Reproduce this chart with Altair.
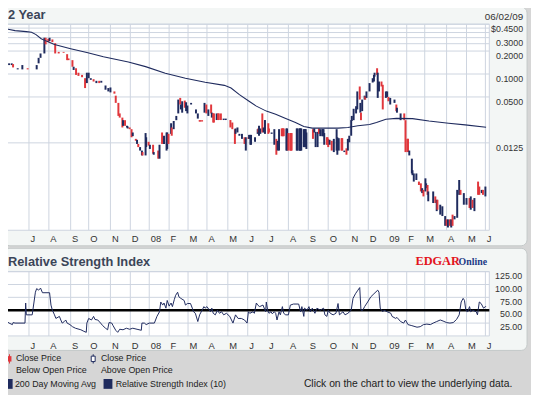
import altair as alt
import pandas as pd

# ------------------------------------------------------------------ data
candle_date = [
    "2007-06-01", "2007-06-05", "2007-06-07", "2007-06-14", "2007-06-21", "2007-06-29",
    "2007-07-13", "2007-07-16", "2007-07-19", "2007-07-25", "2007-07-27", "2007-07-31",
    "2007-08-02", "2007-08-06", "2007-08-10", "2007-08-15", "2007-08-22", "2007-08-27", "2007-08-29",
    "2007-09-04", "2007-09-06", "2007-09-10", "2007-09-14", "2007-09-20", "2007-09-25", "2007-09-28",
    "2007-10-01", "2007-10-04", "2007-10-08", "2007-10-12", "2007-10-16", "2007-10-19", "2007-10-25", "2007-10-29",
    "2007-11-01", "2007-11-07", "2007-11-09", "2007-11-13", "2007-11-15", "2007-11-19", "2007-11-20", "2007-11-23", "2007-11-26", "2007-11-27", "2007-11-30",
    "2007-12-03", "2007-12-05", "2007-12-10", "2007-12-12", "2007-12-14", "2007-12-17", "2007-12-20", "2007-12-21", "2007-12-26", "2007-12-27", "2007-12-31",
    "2008-01-02", "2008-01-07", "2008-01-08", "2008-01-15", "2008-01-17", "2008-01-21", "2008-01-24", "2008-01-28", "2008-01-29", "2008-01-31",
    "2008-02-04", "2008-02-05", "2008-02-08", "2008-02-12", "2008-02-15", "2008-02-18", "2008-02-19", "2008-02-21", "2008-02-25", "2008-02-27", "2008-02-29",
    "2008-03-06", "2008-03-14", "2008-03-17", "2008-03-20", "2008-03-21", "2008-03-24", "2008-03-28", "2008-03-31",
    "2008-04-03", "2008-04-07", "2008-04-08", "2008-04-10", "2008-04-11", "2008-04-15", "2008-04-17", "2008-04-18", "2008-04-21", "2008-04-25", "2008-04-28",
    "2008-05-05", "2008-05-08", "2008-05-12", "2008-05-13", "2008-05-16", "2008-05-19", "2008-05-23", "2008-05-27", "2008-05-29",
    "2008-06-02", "2008-06-03", "2008-06-05", "2008-06-06", "2008-06-12", "2008-06-16", "2008-06-17", "2008-06-18", "2008-06-20", "2008-06-23", "2008-06-25", "2008-06-27",
    "2008-07-02", "2008-07-03", "2008-07-07", "2008-07-11", "2008-07-14", "2008-07-16", "2008-07-18", "2008-07-22", "2008-07-23", "2008-07-24", "2008-07-25", "2008-07-29", "2008-07-30",
    "2008-08-01", "2008-08-04", "2008-08-05", "2008-08-06", "2008-08-14", "2008-08-15", "2008-08-18", "2008-08-19", "2008-08-20", "2008-08-21", "2008-08-25", "2008-08-26", "2008-08-27", "2008-08-28", "2008-08-29",
    "2008-09-08", "2008-09-10", "2008-09-12", "2008-09-15", "2008-09-17", "2008-09-19", "2008-09-22", "2008-09-23", "2008-09-24", "2008-09-25", "2008-09-29", "2008-09-30",
    "2008-10-01", "2008-10-03", "2008-10-06", "2008-10-09", "2008-10-13", "2008-10-14", "2008-10-16", "2008-10-20", "2008-10-21", "2008-10-24", "2008-10-27", "2008-10-29", "2008-10-31",
    "2008-11-03", "2008-11-04", "2008-11-07", "2008-11-11", "2008-11-13", "2008-11-17", "2008-11-18", "2008-11-19", "2008-11-21", "2008-11-25", "2008-11-26", "2008-11-28",
    "2008-12-03", "2008-12-08", "2008-12-10", "2008-12-11", "2008-12-15", "2008-12-16", "2008-12-18", "2008-12-22", "2008-12-24", "2008-12-29", "2008-12-31",
    "2009-01-02", "2009-01-05", "2009-01-12", "2009-01-15", "2009-01-16", "2009-01-22", "2009-01-28", "2009-01-30",
    "2009-02-02", "2009-02-03", "2009-02-05", "2009-02-09", "2009-02-10", "2009-02-12", "2009-02-16", "2009-02-20", "2009-02-23", "2009-02-25", "2009-02-27",
    "2009-03-02", "2009-03-03", "2009-03-05", "2009-03-06", "2009-03-13", "2009-03-16", "2009-03-18", "2009-03-19", "2009-03-23", "2009-03-26", "2009-03-30",
    "2009-04-01", "2009-04-03", "2009-04-06", "2009-04-08", "2009-04-10", "2009-04-13", "2009-04-17", "2009-04-20", "2009-04-22", "2009-04-27",
    "2009-05-01", "2009-05-06", "2009-05-08", "2009-05-11", "2009-05-14", "2009-05-20", "2009-05-22", "2009-05-26", "2009-05-28",
    "2009-06-01",
]
candle_high = [
    .138, .138, .135, .119, .131, .119,
    .131, .163, .186, .299, .299, .290,
    .299, .284, .254, .195, .195, .182, .160,
    .152, .1245, .119, .104, .0973, .0881, .104,
    .104, .0881, .0855, .0814, .0814, .0814, .0707, .0654,
    .0666, .0591, .0520, .0418, .0304, .0268, .0248, .0248, .0209, .0205, .0199,
    .0189, .0171, .0141, .0137, .0121, .0110, .0099, .00946, .0168, .0148, .0129,
    .0118, .0118, .00946, .0099, .0118, .0171, .0155, .0171, .0171, .0164,
    .0226, .0199, .0242, .0282, .0462, .0486, .0398, .0439, .0448, .0426, .0386,
    .0418, .0343, .0304, .0248, .0248, .0248, .0418, .0398,
    .0343, .0398, .0311, .0304, .0304, .0304, .0304, .0304, .0304, .0260, .0260,
    .0249, .0231, .0189, .0193, .0199, .0164, .0164, .0148, .0148,
    .0148, .0159, .0159, .0159, .0148, .0189, .0193, .0209, .0193, .0304, .0199, .0249,
    .0226, .0193, .0171, .0189, .0141, .0133, .0189, .0193, .0193, .0193, .0193, .0193, .0193,
    .0168, .0168, .0168, .0168, .0193, .0193, .0193, .0193, .0193, .0193, .0189, .0189, .0189, .0189, .0171,
    .0189, .0193, .0174, .0174, .0193, .0189, .0189, .0189, .0189, .0168, .0148, .0148,
    .0141, .0137, .0133, .0141, .0189, .0148, .0144, .0144, .0144, .0099, .0106, .0141, .0155,
    .0248, .0282, .0350, .0378, .0591, .0686, .0418, .0311, .0462, .0520, .0510, .0591,
    .076, .0881, .0973, .104, .119, .104, .0797, .0797, .0722, .0591, .0591,
    .0500, .0486, .0462, .0398, .0361, .0304, .0304, .0248,
    .0141, .0141, .0099, .00775, .00547, .00496, .00496, .00388, .00368, .00318, .00302,
    .00428, .00368, .00350, .00288, .00288, .00248, .00224, .00224, .00193, .00184, .00137,
    .00124, .00124, .00124, .00124, .00143, .00137, .00302, .00407, .00302, .00274,
    .00236, .00236, .00248, .00224, .00236, .00388, .00334, .00302, .00302,
    .00334,
]
candle_low = [
    .131, .131, .122, .115, .115, .115,
    .115, .138, .163, .186, .245, .262,
    .270, .262, .186, .186, .190, .152, .152,
    .1245, .113, .0973, .0944, .0908, .0654, .076,
    .0881, .0838, .0797, .076, .076, .077, .0622, .0591,
    .0574, .0552, .0418, .0282, .0268, .0199, .0209, .0209, .0199, .0193, .0189,
    .0148, .0153, .0133, .0121, .0110, .0099, .00855, .00855, .00855, .0110, .0115,
    .0104, .0090, .00873, .00775, .00775, .0121, .0121, .0099, .0104, .0121,
    .0164, .0155, .0189, .0248, .0304, .0398, .0343, .0311, .0361, .0326, .0304,
    .0398, .0304, .0260, .0238, .0238, .0238, .0311, .0304,
    .0282, .0304, .0268, .0231, .0231, .0249, .0249, .0249, .0249, .0249, .0249,
    .0199, .0189, .0121, .0164, .0171, .0155, .0141, .0121, .0099,
    .0141, .0141, .0118, .0118, .0129, .0164, .0171, .0155, .0164, .0171, .0171, .0164,
    .0164, .0171, .0164, .0118, .00873, .0099, .0099, .0153, .0153, .0153, .0153, .0099, .0099,
    .0099, .0099, .0099, .0099, .0099, .0099, .0099, .0099, .0099, .0099, .0110, .0110, .0110, .0148, .0104,
    .0141, .0171, .0110, .0110, .0164, .0153, .0153, .0153, .0153, .0118, .0118, .0118,
    .0110, .0118, .0099, .00946, .0099, .00873, .0099, .0099, .0099, .00946, .00873, .0099, .0127,
    .0155, .0242, .0248, .0304, .0343, .0462, .0311, .0248, .0326, .0462, .0462, .0486,
    .0591, .0773, .0797, .0924, .0973, .0486, .0591, .0686, .0343, .0486, .0500,
    .0439, .0398, .0418, .0326, .0311, .0248, .0248, .00946,
    .00946, .00946, .00855, .00496, .00471, .00388, .00407, .00350, .00288, .00274, .00248,
    .00288, .00318, .00260, .00214, .00203, .00203, .00159, .00166, .00143, .00137, .00102,
    .00102, .00097, .00102, .00097, .00102, .00124, .00130, .00260, .00260, .00193,
    .00193, .00175, .00166, .00175, .00159, .00260, .00260, .00274, .00260,
    .00248,
]
candle_dir = [
    "u", "u", "d", "u", "u", "d",
    "u", "u", "u", "u", "d", "d",
    "u", "d", "d", "d", "d", "d", "d",
    "d", "u", "d", "d", "d", "d", "u",
    "u", "u", "d", "u", "d", "u", "u", "u",
    "u", "d", "d", "d", "d", "d", "u", "d", "u", "u", "d",
    "d", "u", "d", "u", "d", "u", "u", "d", "u", "u", "d",
    "u", "d", "u", "d", "u", "d", "u", "u", "u", "d",
    "u", "d", "u", "u", "u", "d", "u", "u", "d", "u", "u",
    "u", "u", "u", "d", "d", "d", "u", "d",
    "u", "d", "u", "d", "d", "u", "d", "d", "d", "u", "u",
    "d", "d", "d", "u", "u", "u", "u", "d", "u",
    "d", "u", "u", "u", "u", "u", "d", "u", "u", "d", "u", "u",
    "d", "d", "u", "u", "d", "u", "u", "d", "d", "d", "d", "u", "u",
    "d", "d", "d", "d", "u", "u", "u", "u", "u", "u", "u", "u", "u", "u", "u",
    "d", "u", "u", "u", "d", "u", "u", "u", "u", "u", "d", "d",
    "d", "u", "d", "u", "u", "u", "u", "d", "d", "u", "d", "u", "u",
    "u", "u", "u", "u", "u", "d", "u", "d", "u", "u", "d", "u",
    "u", "u", "u", "u", "d", "u", "u", "d", "d", "u", "u",
    "d", "u", "u", "d", "u", "u", "d", "d",
    "d", "d", "u", "u", "u", "u", "u", "d", "d", "u", "d",
    "u", "u", "d", "u", "u", "d", "u", "d", "u", "u", "u",
    "d", "u", "d", "u", "d", "u", "u", "u", "d", "u",
    "u", "d", "u", "d", "u", "d", "d", "u", "d",
    "u",
]

ma_date = [
    "2007-05-28", "2007-06-10", "2007-06-27", "2007-07-05", "2007-07-12", "2007-07-20", "2007-07-28",
    "2007-08-09", "2007-09-01", "2007-09-28", "2007-10-22", "2007-11-28", "2007-12-26", "2008-01-26",
    "2008-02-26", "2008-03-29", "2008-04-26", "2008-05-06", "2008-05-19", "2008-06-03", "2008-06-14",
    "2008-06-29", "2008-07-13", "2008-07-28", "2008-08-12", "2008-08-25", "2008-09-07", "2008-10-15",
    "2008-10-29", "2008-11-14", "2008-12-03", "2008-12-14", "2008-12-29", "2009-01-15", "2009-02-10",
    "2009-03-07", "2009-04-04", "2009-04-29", "2009-06-02",
]
ma_value = [
    0.390, 0.371, 0.360, 0.353, 0.329, 0.290, 0.270,
    0.244, 0.215, 0.191, 0.168, 0.144, 0.125, 0.102,
    0.088, 0.078, 0.071, 0.0655, 0.0536, 0.0440, 0.0379,
    0.0326, 0.0296, 0.0260, 0.0231, 0.0205, 0.0195, 0.0195,
    0.0199, 0.0209, 0.0218, 0.0231, 0.0255, 0.0262, 0.0260,
    0.0242, 0.0226, 0.0215, 0.0200,
]

rsi_date = [
    "2007-05-29",
    "2007-06-01", "2007-06-06", "2007-06-07", "2007-06-10", "2007-06-25", "2007-06-26", "2007-06-27",
    "2007-07-06", "2007-07-11", "2007-07-13", "2007-07-16", "2007-07-19", "2007-07-22",
    "2007-08-02", "2007-08-04", "2007-08-06", "2007-08-09", "2007-08-11", "2007-08-16", "2007-08-18", "2007-08-20", "2007-08-23", "2007-08-25", "2007-08-27", "2007-08-31",
    "2007-09-04", "2007-09-09", "2007-09-18", "2007-09-23", "2007-09-27", "2007-09-28",
    "2007-10-01", "2007-10-05", "2007-10-08", "2007-10-10", "2007-10-14", "2007-10-18", "2007-10-21", "2007-10-25", "2007-10-28", "2007-10-30",
    "2007-11-03", "2007-11-05", "2007-11-09", "2007-11-12", "2007-11-15", "2007-11-20", "2007-11-25", "2007-11-30",
    "2007-12-05", "2007-12-12", "2007-12-19", "2007-12-20", "2007-12-24", "2007-12-27",
    "2008-01-01", "2008-01-09", "2008-01-13", "2008-01-17", "2008-01-19", "2008-01-22", "2008-01-24", "2008-01-27", "2008-01-29",
    "2008-02-01", "2008-02-04", "2008-02-06", "2008-02-09", "2008-02-11", "2008-02-14", "2008-02-16", "2008-02-19", "2008-02-24", "2008-02-26", "2008-02-29",
    "2008-03-05", "2008-03-08", "2008-03-10", "2008-03-13", "2008-03-17", "2008-03-20", "2008-03-24", "2008-03-27", "2008-03-29",
    "2008-04-01", "2008-04-06", "2008-04-08", "2008-04-10", "2008-04-13", "2008-04-16", "2008-04-19", "2008-04-22", "2008-04-25", "2008-04-29",
    "2008-05-04", "2008-05-09", "2008-05-13", "2008-05-17", "2008-05-22", "2008-05-27", "2008-05-31",
    "2008-06-02", "2008-06-04", "2008-06-09", "2008-06-11", "2008-06-14", "2008-06-16", "2008-06-19", "2008-06-24", "2008-06-28", "2008-06-29",
    "2008-07-01", "2008-07-03", "2008-07-06", "2008-07-08", "2008-07-11", "2008-07-13", "2008-07-15", "2008-07-18", "2008-07-20", "2008-07-23", "2008-07-25", "2008-07-28",
    "2008-08-01", "2008-08-04", "2008-08-09", "2008-08-17", "2008-08-20", "2008-08-22", "2008-08-25", "2008-08-26", "2008-08-30",
    "2008-09-02", "2008-09-04", "2008-09-07", "2008-09-11", "2008-09-14", "2008-09-19", "2008-09-24", "2008-09-26", "2008-09-29",
    "2008-10-01", "2008-10-04", "2008-10-08", "2008-10-12", "2008-10-15", "2008-10-17", "2008-10-22", "2008-10-25", "2008-10-29",
    "2008-11-03", "2008-11-06", "2008-11-10", "2008-11-14", "2008-11-17", "2008-11-19", "2008-11-22", "2008-11-25", "2008-11-30",
    "2008-12-05", "2008-12-10", "2008-12-16", "2008-12-18", "2008-12-20", "2008-12-24", "2008-12-26", "2008-12-31",
    "2009-01-06", "2009-01-08", "2009-01-14", "2009-01-16", "2009-01-22", "2009-01-27", "2009-01-30",
    "2009-02-03", "2009-02-09", "2009-02-17", "2009-02-22", "2009-02-27",
    "2009-03-04", "2009-03-09", "2009-03-13", "2009-03-18", "2009-03-23", "2009-03-27",
    "2009-04-01", "2009-04-06", "2009-04-11", "2009-04-16", "2009-04-20", "2009-04-23", "2009-04-26", "2009-04-28", "2009-04-30",
    "2009-05-03", "2009-05-06", "2009-05-08", "2009-05-11", "2009-05-17", "2009-05-19", "2009-05-22", "2009-05-25", "2009-05-29",
    "2009-06-01", "2009-06-02",
]
rsi_value = [
    28,
    25, 22, 26, 25, 25, 64, 41,
    41, 85, 92, 89, 93, 84,
    84, 60, 50, 41, 34, 38, 31, 25, 28, 31, 25, 22,
    18, 15, 12, 9, 7, 25,
    34, 31, 38, 32, 31, 25, 20, 15, 12, 26,
    25, 20, 11, 7, 13, 12, 15, 13,
    15, 13, 11, 25, 25, 22,
    25, 25, 38, 47, 66, 60, 64, 54, 69,
    58, 64, 57, 71, 79, 85, 76, 73, 69, 60, 63,
    63, 54, 47, 44, 28, 41, 50, 57, 54,
    57, 47, 54, 44, 41, 50, 44, 47, 41, 44,
    38, 25, 41, 34, 34, 31, 25,
    47, 44, 47, 44, 64, 60, 57, 60, 47, 66,
    50, 44, 47, 43, 47, 44, 31, 47, 41, 57, 44, 41,
    41, 60, 62, 62, 47, 57, 38, 54, 50,
    57, 47, 54, 44, 54, 50, 54, 41, 38,
    50, 44, 41, 44, 63, 41, 47, 41, 44,
    50, 73, 82, 89, 94, 50, 50, 57, 66,
    76, 82, 89, 85, 54, 47, 50, 47,
    44, 38, 34, 36, 28, 25, 31,
    22, 20, 17, 18, 22,
    23, 22, 25, 28, 31, 29,
    26, 25, 26, 32, 41, 66, 73, 69, 50,
    47, 57, 47, 50, 47, 41, 66, 63, 54,
    57, 57,
]

month_date = [
    "2007-07-01", "2007-08-01", "2007-09-01", "2007-10-01", "2007-11-01", "2007-12-01",
    "2008-01-01", "2008-02-01", "2008-03-01", "2008-04-01", "2008-05-01", "2008-06-01",
    "2008-07-01", "2008-08-01", "2008-09-01", "2008-10-01", "2008-11-01", "2008-12-01",
    "2009-01-01", "2009-02-01", "2009-03-01", "2009-04-01", "2009-05-01", "2009-06-01",
]
month_label = ["J", "A", "S", "O", "N", "D", "08", "F", "M", "A", "M", "J",
               "J", "A", "S", "O", "N", "D", "09", "F", "M", "A", "M", "J"]

price_tick = [0.45, 0.3, 0.2, 0.1, 0.05, 0.0125]
price_tick_label = ["$0.4500", "0.3000", "0.2000", "0.1000", "0.0500", "0.0125"]
price_grid = [0.45, 0.4, 0.35, 0.3, 0.25, 0.2, 0.1, 0.05, 0.0125]
price_range = [0.000892, 0.45]
rsi_tick = [125, 100, 75, 50, 25]
rsi_tick_label = ["125.00", "100.00", "75.00", "50.00", "25.00"]
rsi_range = [0, 125]
rsi_mid = [50]

assert len(candle_date) == len(candle_high) == len(candle_low) == len(candle_dir)
assert len(ma_date) == len(ma_value)
assert len(rsi_date) == len(rsi_value)

# ------------------------------------------------------------------ style / layout
BG = "#d6d6d6"
PANEL = "#f3f6f5"
PANEL_EDGE = "#c3c8c8"
GRID = "#cdd4df"
NAVY = "#1f2b5e"
RED = "#e1373c"
TXT = "#333333"
TITLE = "#3b4558"
SANS = "Liberation Sans"
SERIF = "Liberation Serif"

W, H = 531, 387
PX_L, PX_R = -1, 488.7          # plot area, both panels
P_TOP, P_BOT = 13.5, 222.7      # price panel
R_TOP, R_BOT = 264.7, 330       # RSI panel

EPOCH = pd.Timestamp("1970-01-01")


def day_number(dates):
    """Calendar day count of each date (days since 1970-01-01)."""
    return [int((pd.Timestamp(d) - EPOCH).days) for d in dates]


# trading-session axis: month boundaries -> pixel breakpoints (weekends/holidays squeezed out)
scale_months = pd.date_range("2007-05-01", "2009-07-01", freq="MS")
month_break_px = [-12.1, 9.1, 29.3, 49.5, 71.6, 89.9, 112.0, 132.2, 151.4, 171.6, 190.8, 210.0,
                  231.2, 251.4, 271.6, 292.7, 312.9, 333.1, 355.2, 373.8, 393.6, 412.8, 431.1,
                  453.3, 473.5, 492.7, 513.9]
x_scale = alt.Scale(
    type="linear",
    domain=day_number(scale_months),
    range=[p - 8 for p in month_break_px],
    nice=False, zero=False,
)
price_scale = alt.Scale(type="log", domain=price_range, range=[P_BOT, P_TOP], nice=False)
rsi_scale = alt.Scale(type="linear", domain=rsi_range, range=[R_BOT, R_TOP], nice=False, zero=False)

# kind -> colour / stroke width for the vertical segments of each panel
KIND_DOMAIN = ["d", "u", "g"]
KIND_COLOR = [RED, NAVY, GRID]
KIND_WIDTH = {"d": 2, "u": 2, "g": 1}

# ------------------------------------------------------------------ tables
month_days = day_number(month_date)
price_segments = pd.concat([
    pd.DataFrame({"day": month_days, "high": price_range[1], "low": price_range[0], "kind": "g"}),
    pd.DataFrame({"day": day_number(candle_date), "high": candle_high, "low": candle_low,
                  "kind": candle_dir}),
], ignore_index=True)
price_segments["w"] = price_segments["kind"].map(KIND_WIDTH)
rsi_segments = pd.DataFrame({"day": month_days, "high": rsi_range[1], "low": rsi_range[0], "kind": "g"})
rsi_segments["w"] = rsi_segments["kind"].map(KIND_WIDTH)

ma = pd.DataFrame({"day": day_number(ma_date), "value": ma_value})
rsi = pd.DataFrame({"day": day_number(rsi_date), "value": rsi_value})
months = pd.DataFrame({"day": month_days, "label": month_label})
ptick = pd.DataFrame({"v": price_tick, "label": price_tick_label})
pgrid = pd.DataFrame({"v": price_grid})
rtick = pd.DataFrame({"v": rsi_tick, "label": rsi_tick_label})
rmid = pd.DataFrame({"v": rsi_mid})
one = pd.DataFrame({"k": [0]})

X = alt.X("day:Q", scale=x_scale, axis=None)
KIND = alt.Color("kind:N", scale=alt.Scale(domain=KIND_DOMAIN, range=KIND_COLOR), legend=None)
WIDTH = alt.Size("w:Q", scale=None, legend=None)


def rect(x1, x2, y1, y2, **kw):
    return alt.Chart(one).mark_rect(**kw).encode(
        x=alt.value(x1), x2=alt.value(x2), y=alt.value(y1), y2=alt.value(y2))


def text(t, x, y, size=9, weight="normal", color=TXT, align="left", font=SANS, baseline="middle"):
    return alt.Chart(pd.DataFrame({"t": [t]})).mark_text(
        align=align, baseline=baseline, fontSize=size, fontWeight=weight, color=color, font=font
    ).encode(x=alt.value(x), y=alt.value(y), text="t:N")


layers = []
# panels
layers.append(rect(-4, 527, -4, 238.5, fill=PANEL, stroke=PANEL_EDGE, strokeWidth=1, cornerRadius=6))
layers.append(rect(-4, 527, 241, 344.7, fill=PANEL, stroke=PANEL_EDGE, strokeWidth=1, cornerRadius=6))
layers.append(rect(PX_L, PX_R, P_TOP, P_BOT, fill="white", stroke=GRID, strokeWidth=1))
layers.append(rect(PX_L, PX_R, R_TOP, R_BOT, fill="white", stroke=GRID, strokeWidth=1))

# horizontal grids + labels
layers.append(alt.Chart(pgrid).mark_rule(color=GRID, strokeWidth=1).encode(
    x=alt.value(PX_L), x2=alt.value(PX_R), y=alt.Y("v:Q", scale=price_scale, axis=None)))
layers.append(alt.Chart(ptick).mark_text(
    align="right", baseline="middle", dy=5.3, fontSize=9, font=SANS, color=TXT
).encode(x=alt.value(523), y=alt.Y("v:Q", scale=price_scale, axis=None), text="label:N"))
layers.append(alt.Chart(rtick).mark_rule(color=GRID, strokeWidth=1).encode(
    x=alt.value(PX_L), x2=alt.value(PX_R), y=alt.Y("v:Q", scale=rsi_scale, axis=None)))
layers.append(alt.Chart(rtick).mark_text(
    align="right", baseline="middle", dy=4.3, fontSize=9, font=SANS, color=TXT
).encode(x=alt.value(522), y=alt.Y("v:Q", scale=rsi_scale, axis=None), text="label:N"))

# month labels
for ly in (232, 340.3):
    layers.append(alt.Chart(months).mark_text(
        align="left", baseline="middle", dx=1.5, fontSize=9.5, font=SANS, color=TXT
    ).encode(x=X, y=alt.value(ly), text="label:N"))

# price panel: month gridlines then candles (one rule layer)
layers.append(alt.Chart(price_segments).mark_rule(strokeCap="butt").encode(
    x=X, y=alt.Y("high:Q", scale=price_scale, axis=None), y2="low:Q",
    color=KIND, size=WIDTH,
))
# 200-day moving average
layers.append(alt.Chart(ma).mark_line(color=NAVY, strokeWidth=1.1).encode(
    x=X, y=alt.Y("value:Q", scale=price_scale, axis=None)))

# RSI panel: month gridlines, midline, RSI
layers.append(alt.Chart(rsi_segments).mark_rule(strokeCap="butt").encode(
    x=X, y=alt.Y("high:Q", scale=rsi_scale, axis=None), y2="low:Q",
    color=KIND, size=WIDTH,
))
layers.append(alt.Chart(rmid).mark_rule(color="black", strokeWidth=2.5).encode(
    x=alt.value(PX_L), x2=alt.value(PX_R), y=alt.Y("v:Q", scale=rsi_scale, axis=None)))
layers.append(alt.Chart(rsi).mark_line(color=NAVY, strokeWidth=1).encode(
    x=X, y=alt.Y("value:Q", scale=rsi_scale, axis=None)))

# titles
layers.append(text("2 Year", 0, 4.5, size=13, weight="bold", color=TITLE))
layers.append(text("06/02/09", 523, 6.5, size=10, align="right"))
layers.append(text("Relative Strength Index", 0, 255, size=13, weight="bold", color=TITLE))
layers.append(text("EDGAR", 413.7, 257.7, size=12.5, weight="bold", color="#e3141c", font=SERIF,
                   baseline="alphabetic"))
layers.append(text("Online", 457.5, 257.7, size=10, weight="bold", color="#1c3a86", font=SERIF,
                   baseline="alphabetic"))

# legend
layers.append(rect(1, 2, 348.5, 358, fill=RED))
layers.append(rect(-0.5, 3.5, 350.5, 356, fill=RED))
layers.append(rect(86, 87, 348.5, 358, fill=NAVY))
layers.append(rect(84.5, 88.5, 350.5, 356, fill="white", stroke=NAVY, strokeWidth=1))
layers.append(text("Close Price", 8, 352.7, color="#222222"))
layers.append(text("Below Open Price", 8, 364.8, color="#222222"))
layers.append(text("Close Price", 94.3, 352.7, color="#222222"))
layers.append(text("Above Open Price", 94.3, 364.8, color="#222222"))
layers.append(rect(-4.7, 4.7, 373.7, 383.7, fill=NAVY))
layers.append(text("200 Day Moving Avg", 7, 378.4, color="#222222"))
layers.append(rect(97, 106, 373.7, 383.7, fill=NAVY))
layers.append(text("Relative Strength Index (10)", 109.3, 378.4, color="#222222"))
layers.append(text("Click on the chart to view the underlying data.", 512, 378.4, size=10.5,
                   align="right", color="#222222"))

chart = alt.layer(*layers).resolve_scale(y="independent").properties(
    width=W, height=H, padding=0, background=BG,
    autosize=alt.AutoSizeParams(type="none"),
).configure_view(stroke=None)

chart.save("out.html", embed_options={"renderer": "svg", "actions": False})
